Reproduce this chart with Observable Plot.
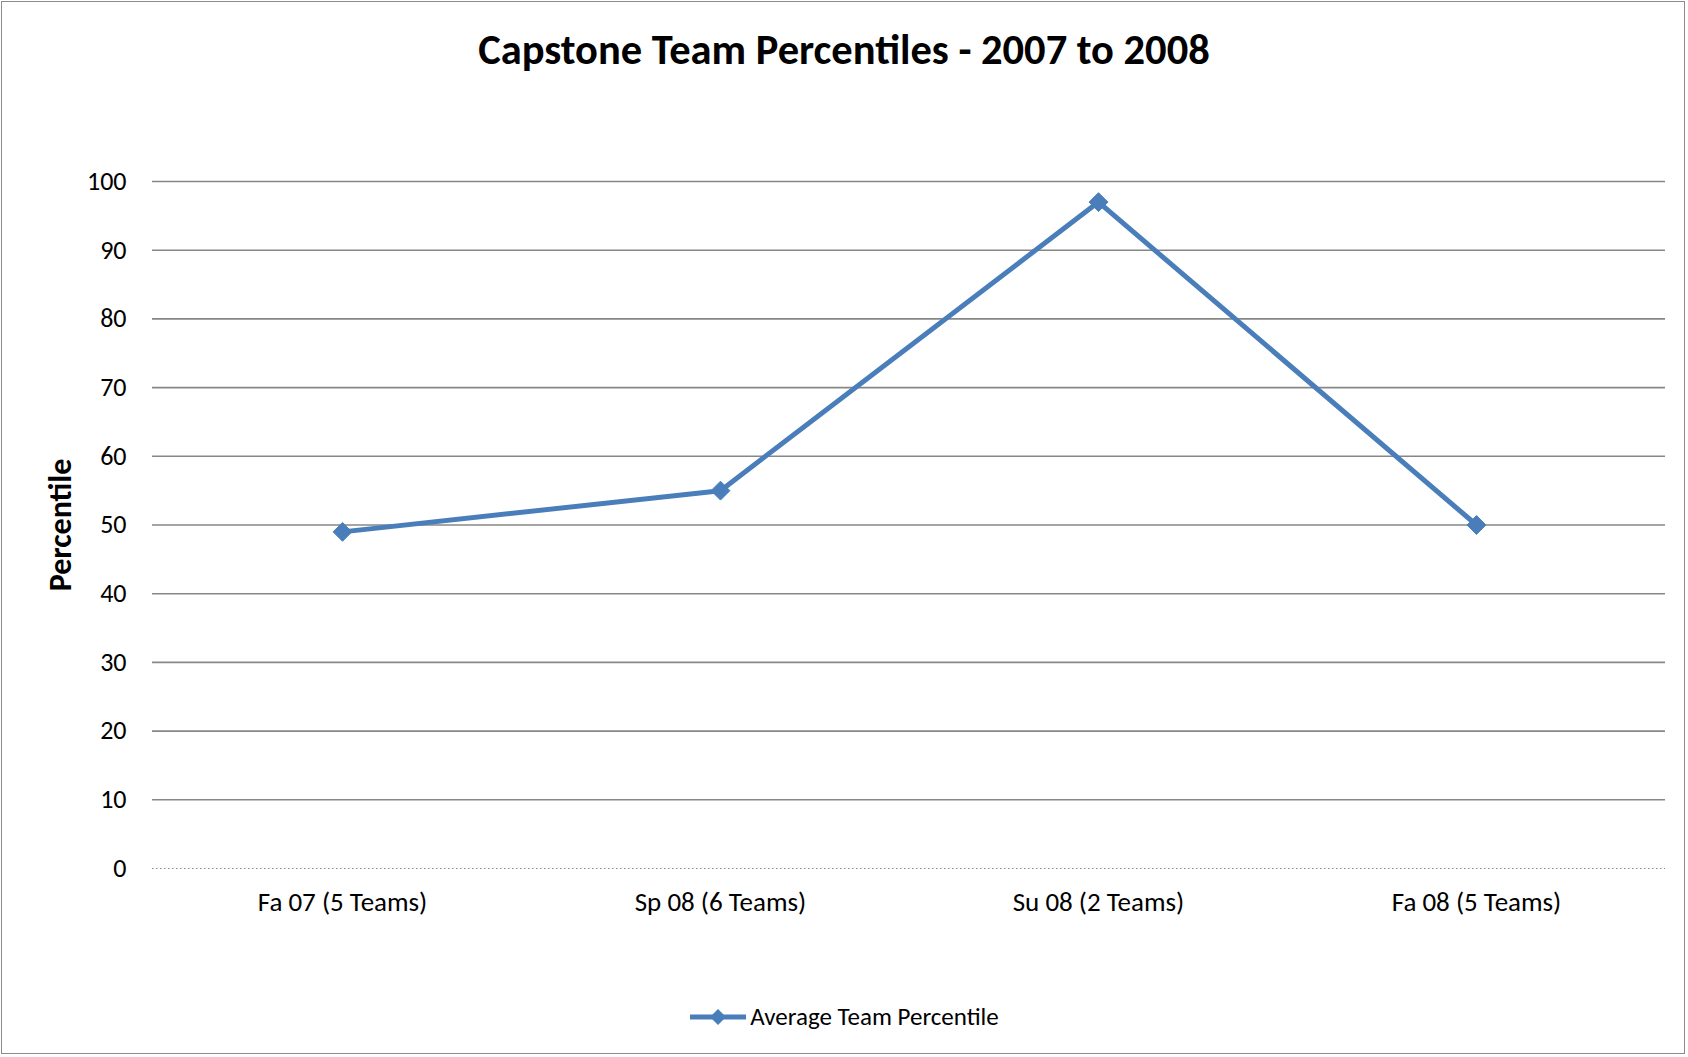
<!DOCTYPE html>
<html>
<head>
<meta charset="utf-8">
<script src="https://cdn.jsdelivr.net/npm/d3@7"></script>
<script src="https://cdn.jsdelivr.net/npm/@observablehq/plot@0.6"></script>
<style>
  html, body { margin: 0; padding: 0; background: #fff; }
  body { width: 1688px; height: 1057px; overflow: hidden; font-family: Carlito, Lato, "Noto Sans", sans-serif; }
  #frame { position: absolute; left: 1px; top: 1px; width: 1684px; height: 1053px; border: 1px solid #8c8c8c; box-sizing: border-box; }
  #title { position: absolute; left: 0; width: 1688px; top: 24px; text-align: center; font-weight: bold; font-size: 42.5px; color: #000; }
  #chart { position: absolute; left: 0; top: 0; }
  #chart svg g[aria-label="y-axis label"] text { font-weight: bold; font-size: 32px; }
  #legend { position: absolute; top: 1001px; left: 0; width: 1688px; text-align: center; font-size: 25px; color: #000; }
  #legend span { display: inline-flex; align-items: center; gap: 3px; }
</style>
</head>
<body>
<div id="frame"></div>
<div id="title">Capstone Team Percentiles - 2007 to 2008</div>
<div id="chart"></div>
<div id="legend"><span><svg width="58" height="22" viewBox="0 0 58 22"><line x1="1" y1="11" x2="57" y2="11" stroke="#4a7ebb" stroke-width="5"/><path d="M29,3 L37,11 L29,19 L21,11 Z" fill="#4a7ebb"/></svg><span id="legendText"></span></span></div>
<script>
const categories = ["Fa 07 (5 Teams)", "Sp 08 (6 Teams)", "Su 08 (2 Teams)", "Fa 08 (5 Teams)"];
const values = [49, 55, 97, 50];
const yTicks = [0, 10, 20, 30, 40, 50, 60, 70, 80, 90, 100];
const seriesName = "Average Team Percentile";

document.getElementById("legendText").textContent = seriesName;

const data = categories.map((c, i) => ({category: c, value: values[i]}));
const blue = "#4a7ebb";

const chart = Plot.plot({
  width: 1688,
  height: 960,
  marginTop: 181,
  marginBottom: 92,
  marginLeft: 152,
  marginRight: 23,
  style: {fontFamily: "Carlito, Lato, 'Noto Sans', sans-serif", fontSize: "27px", color: "#000", background: "transparent"},
  x: {type: "point", domain: categories, padding: 0.5, label: null},
  y: {domain: [0, 100], ticks: yTicks, label: "Percentile"},
  marks: [
    Plot.ruleY(yTicks.filter(t => t > 0), {stroke: "#878787", strokeWidth: 1.6}),
    Plot.ruleY([0], {stroke: "#878787", strokeWidth: 1.2, strokeDasharray: "1.5,2.5"}),
    Plot.axisY({ticks: yTicks, tickSize: 0, tickPadding: 26, label: "Percentile", labelAnchor: "center", labelArrow: "none", labelOffset: 104, fontSize: 26}),
    Plot.axisX({tickSize: 0, tickPadding: 23, fontSize: 27}),
    Plot.line(data, {x: "category", y: "value", stroke: blue, strokeWidth: 5}),
    Plot.dot(data, {x: "category", y: "value", symbol: "diamond2", r: 8.5, fill: blue, stroke: blue, strokeWidth: 1})
  ]
});
document.getElementById("chart").appendChild(chart);
</script>
</body>
</html>
